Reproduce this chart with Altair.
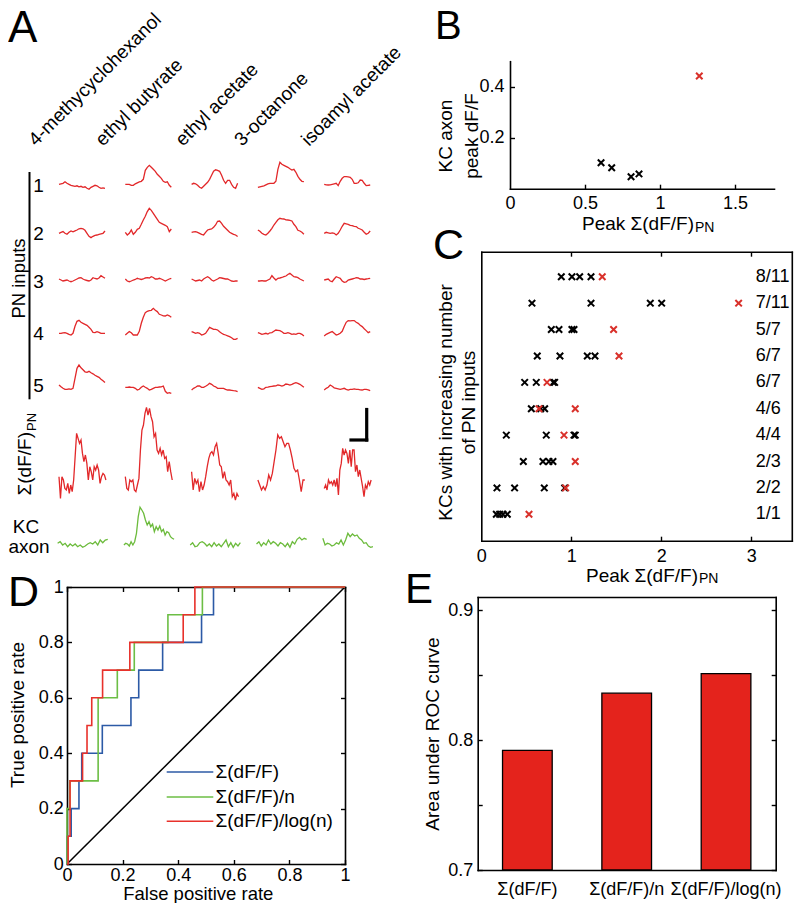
import altair as alt
import pandas as pd

# ====================== DATA ======================
odors = ["4-methycyclohexanol", "ethyl butyrate", "ethyl acetate", "3-octanone", "isoamyl acetate"]
pn_numbers = ["1", "2", "3", "4", "5"]

# Panel A: response traces (deflection above baseline, arbitrary units), one list per odor
pn1 = [
    [0, 0.5, 1, 2.5, 1, 0, -1, -1.5, -2, -1.5, -2.5, -2, -3, -2.5, -4, -5, -3, -2, -1, -1.5, -3, -4, -3.5, -4],
    [0, 0, 0, -1, -1, 0.5, 1.5, 2.5, 3, 5, 14, 17, 19, 17, 15, 13, 10, 8, 6, 3, 2, 2.5, -1, -3],
    [0, 1, 0.5, -1, -3, -4, -2, 0, 2, 5, 9, 13, 14.5, 14, 13, 9, 4, 1, 4, 4, 0, -3, -4, 1],
    [-3, -2.5, -2, -1.5, -0.5, 0.5, 1, 1, 1, 3, 15, 22, 20, 19, 18, 17, 15.5, 14.3, 15, 12, 8, 5, 3, 2.7],
    [0, -0.5, -0.7, -0.5, 0, 0.5, 1, -1.3, 3, 6, 7.7, 7.7, 7.5, 7, 5, 1, 1, 1.5, 4.3, 4, 1, -1.3, -1, -0.7],
]
pn2 = [
    [-1, 0, 0.7, -1, -2, 0, 1.3, 0.5, 1.5, 2.3, 3.5, 4, 3.5, 2, -1, -4, -5.3, -4, -3, -2.7, -2, -1.5, -1, 1.3],
    [0, -2.7, -1, 2.3, -2, 0, 3, 4, 8, 12.3, 16, 20.7, 24, 22, 19, 16, 13, 10, 9, 8, 7, 5.7, 0.7, 3.3],
    [0, 0.5, 0.7, 0, -1, -2, -2.7, 0, 2.3, 3, 3.3, 5, 7.3, 11, 11.3, 9, 6, 4, 2, 0, -1, -2, -2.7, -4.3],
    [2.3, 1, -1, -2, -2.7, -1, 1.3, 4, 7.3, 10, 12.5, 14, 13.5, 13.3, 12.5, 12.3, 12, 11.3, 8, 5.7, 2, 1.3, 0, -2],
    [-1, 0, -0.5, -1, -0.5, -1, -2.7, -1, 2.3, 6, 9, 8.5, 8, 7, 6.7, 6, 5.7, 4, 3.3, 2.3, 0, -2, -1, 1.3],
]
pn3 = [
    [2, 1, 0, 0.5, 1, 0, -0.7, 0, 1, 2, 3, 3.3, 2, 1, 0.5, 0, 1, 3.3, 2.5, 2, 3, 5.3, 4, 2.7],
    [2, 0, -0.7, 0, 1, 1.5, 2.7, 2, 1.5, 2, 3, 3.3, 3, 4.3, 3.5, 2, 2, 2.7, 2, 1, 0, 1, 2, 2.7],
    [2, 1, 0, 0.5, 1, 0, 2, 3.3, 4.3, 3, 1, 0, 1, 2, 3.3, 3, 2.5, 2, 2, 1, 0, -0.3, 0, 0],
    [0, 0, 0.3, 0, 0, 1, 2, 5.3, 3, 1, 2.7, 3, 3.5, 4.3, 5, 6.5, 7.7, 6, 4.3, 4, 3.3, 2, 1, 0],
    [1, 1.5, 2, 0, -0.7, 2, 4.3, 3.5, 2.7, 0, -1.3, -1, 1, 1.5, 2, 2.5, 3.3, 3, 2, 2, 1.5, 2, 2.3, 2.7],
]
pn4 = [
    [0, 0, 0.5, 0.7, 0, -1, -1.7, 0, 7, 12, 13, 11, 10, 9, 8, 6, 4, 1, 0.7, 1.7, 1, 0, 0, 0],
    [-1.7, 0, 1.7, 0.5, -1.7, -1.7, -1.7, 2, 10, 16, 20.7, 22, 22.7, 23, 25, 23, 21.7, 19, 18.3, 17.5, 17.3, 18.3, 17.5, 16],
    [1.7, 1, 0, 0.7, 0, -1.7, -1, 0, 3, 6, 5, 4, 4, 3.3, 1.5, 0, -1, -1.7, -2.5, -3.3, -4.5, -6, -6, -5],
    [0.7, 0, -1, -0.5, 0, -0.7, 0.5, 0.7, 2, 3.3, 3, 2.7, 1.5, 0, 0, 0.7, 0, -1, -0.5, -1, 0, 0, -1, -2.7],
    [-2.7, -1, 0, 1, 1.7, 0, -1.7, -1, 0, 2, 6.7, 11, 12.7, 12.5, 12.7, 12.7, 11, 10, 8, 6.7, 4.5, 2.7, 0.7, 1.7],
]
pn5 = [
    [3.3, 1.5, 0, -1, -1, -0.5, -1, 0, 10, 20, 23.3, 20.5, 18.5, 16.5, 16, 17, 15.5, 14.5, 13, 12, 11, 9, 7.5, 5.7],
    [1, 1, 1.3, 1, 1, 0, -1.7, -1, 1, 2.3, 1, 0, -1.7, -1, 0, 1, 1, 1.3, 1.5, 2.3, -3, -5, -4.3, -5],
    [-1.7, 0, 1, 2.3, 2.3, 1, 1, 2, 3.3, 5, 4, 2.3, 1.5, 0, 0, 0, 0, -1, -1.7, -1.7, -2, -2.3, -2.5, -3.3],
    [1, 0, -1, -0.5, 1, 1.2, 1.7, 2, 2.3, 2.5, 3.3, 3, 2.3, 3, 4.3, 4, 3.3, 4, 5, 5.7, 5, 4, 2.5, 1],
    [-1.7, 0, 1, 3.3, 2, 0.5, 0, -0.5, -1, -0.5, 0, -1, -1.7, -1, -1, -0.5, -1, -1, -1.5, -1.7, -1, -1, -1.5, -2.3],
]
sum_pn = [
    [10, -11.7, 10, 6.7, -1.7, -3.3, 3.3, -6.7, 1.7, -5, 6.7, 30, 53.3, 48.3, 43.3, 46.7, 33.3, 25, 31.7, 23.3,
     6.7, 20, 15, 6.7, 20, 16.7, 21.7, 16.7, 3.3, 10, 13.3, 11.7, 6.7],
    [10, -1.7, -3.3, 6.7, 5, 6.7, -3.3, -5, 1.7, 8.3, 36.7, 56.7, 61.7, 73.3, 79.3, 71.7, 78.3, 70, 65, 50,
     53.3, 36.7, 33.3, 38.3, 31.7, 36.7, 28.3, 30, 15, 25, 15, 6.7],
    [15, -3.3, 8.3, 3.3, 6.7, -5, 5, -3.3, 1.7, 10, 20, 28.3, 33.3, 35, 31.7, 40, 43.3, 33.3, 21.7, 20,
     8.3, 15, 6.7, 5, 1.7, 6.7, -10, -6.7, -13.3, -6.7, -10],
    [6.7, 1.7, -3.3, 0, -3.3, 1.7, 11.7, 6.7, 13.3, 25, 36.7, 51.7, 48.3, 50, 45, 40, 43.3, 43.3, 36.7, 28.3,
     18.3, 15, 16.7, 6.7, -5, 6.7, 6.7],
    [-1.7, 1.7, -3.3, 6.7, 3.3, 5, 1.7, 6.7, 0, 8.3, -8.3, 16.7, 23.3, 38.3, 31.7, 36.7, 33.3, 23.3, 36.7, 20,
     36.7, 36.7, 15, 21.7, 10, 16.7, 8.3, 0, -10, 1.7, -1.7, 5, 1.7, 6.7],
]
kc_axon = [
    [0.7, 2.3, -1, 0.7, -2.7, 0, -2, 0, -2.7, -1, -3.3, -2, 0, 1.3, 0, 2.3, -1, 4, 1.3, 4, 4.7],
    [-1, 0.7, 0, -2, 2.3, -1, 2.3, 10.7, 27.3, 36.7, 34, 30.7, 24, 19, 22.3, 17.3, 20, 12.3, 17.3, 14,
     18, 12.3, 14.7, 9, 12.3, 11.3, 7.3, 5.7, 4.7],
    [-1, 1.3, -2.7, -2, 1.3, 2.3, 0.7, -2, 0, -2.7, 1.3, -2, 0, -2.7, 0.7, 4, -2.7, 1.3, -3.3, 0.7, -2, 1.3],
    [0, 2.3, -2, 1.3, -1, 4, 0, 2.3, 0.7, -2, 1.3, 0, -2.7, 0.7, -3.3, 2.3, 0, 4.7, 6.7, 4, 5.7, 4.7],
    [5.7, -1, 0.7, 0, -2, -1, 1.3, 0, 4, -1, 4, 10.7, 7.3, 10, 8, 9, 5.7, 4, 0.7, 1.3, -2, -3.3, -2.7],
]
trace_rows = [pn1, pn2, pn3, pn4, pn5, sum_pn, kc_axon]

# Panel B
b_peak_sum = [0.607, 0.678, 0.807, 0.860, 1.262]
b_kc_peak = [0.102, 0.082, 0.047, 0.058, 0.442]
b_is_red = [0, 0, 0, 0, 1]

# Panel C (rows listed bottom -> top)
c_row_labels = ["1/1", "2/2", "2/3", "4/4", "4/6", "6/7", "6/7", "5/7", "7/11", "8/11"]
c_black = [
    [0.167, 0.204, 0.241, 0.289],
    [0.174, 0.370, 0.700, 0.926],
    [0.467, 0.685, 0.752, 0.796],
    [0.278, 0.722, 1.030, 1.044],
    [0.556, 0.660, 0.704],
    [0.482, 0.611, 0.800, 0.815],
    [0.622, 0.874, 1.178, 1.263],
    [0.778, 0.863, 1.007, 1.030],
    [0.563, 1.219, 1.878, 2.004],
    [0.889, 1.007, 1.093, 1.219],
]
c_red = [[0.53], [0.937], [1.044], [0.919], [0.641, 1.044], [0.73], [1.53], [1.47], [2.859], [1.344]]

# Panel D (ROC curves)
roc_methods = ["Σ(dF/F)", "Σ(dF/F)/n", "Σ(dF/F)/log(n)"]
roc_fpr_sum = [0, 0, 0.015, 0.015, 0.043, 0.043, 0.053, 0.053, 0.127, 0.127, 0.23, 0.23, 0.258, 0.258,
               0.344, 0.344, 0.484, 0.484, 0.527, 0.527, 1]
roc_tpr_sum = [0, 0.1, 0.1, 0.2, 0.2, 0.3, 0.3, 0.4, 0.4, 0.5, 0.5, 0.6, 0.6, 0.7,
               0.7, 0.8, 0.8, 0.9, 0.9, 1, 1]
roc_fpr_n = [0, 0, 0.01, 0.01, 0.112, 0.112, 0.181, 0.181, 0.242, 0.242, 0.363, 0.363, 0.487, 0.487, 1]
roc_tpr_n = [0, 0.2, 0.2, 0.3, 0.3, 0.6, 0.6, 0.7, 0.7, 0.8, 0.8, 0.9, 0.9, 1, 1]
roc_fpr_log = [0, 0.004, 0.004, 0.011, 0.011, 0.056, 0.056, 0.072, 0.072, 0.089, 0.089, 0.128, 0.128,
               0.226, 0.226, 0.418, 0.418, 0.46, 0.46, 1]
roc_tpr_log = [0, 0, 0.1, 0.1, 0.3, 0.3, 0.4, 0.4, 0.5, 0.5, 0.6, 0.6, 0.7,
               0.7, 0.8, 0.8, 0.9, 0.9, 1, 1]

# Panel E
auc_values = [0.792, 0.836, 0.851]

# ====================== LAYOUT / STYLE ======================
PAGE = 8
W, H = 786, 895
FONT = "Liberation Sans"
TRACE_RED = "#e2282a"
TRACE_GREEN = "#6cbb3c"
ROC_COLORS = ["#2c5aa6", "#6cbe45", "#e8312b"]
BAR_RED = "#e4231c"
MARK_RED = "#d9302a"
XSHAPE = "M-1,-1L1,1M-1,1L1,-1"


def px(v):
    return v - PAGE


def axis(orient, pos, values=None, labels=False, ticks=False, domain=False, pad=4, size=18, tick=4.5,
         fmt="~g", angle=None):
    p = px(pos)
    off = {"bottom": p - H, "top": -p, "left": -p, "right": p - W}[orient]
    kw = dict(orient=orient, offset=off, title=None, grid=False, labels=labels, ticks=ticks, domain=domain,
              domainColor="black", domainWidth=1.6, domainCap="square",
              tickColor="black", tickWidth=1.4, tickSize=tick,
              labelFont=FONT, labelFontSize=size, labelColor="black", labelPadding=pad,
              labelFlush=False, labelOverlap=False, labelBound=False)
    if fmt:
        kw["format"] = fmt
    if values is not None:
        kw["values"] = values
    if angle is not None:
        kw.update(labelAngle=angle, labelAlign="center", labelBaseline="top")
    return alt.Axis(**kw)


# ---------------- Panel A ----------------
A_X0 = 59.0                 # page x of first trace start
A_UNIT = 46.0               # px per trace duration
A_PITCH = 66.3 / A_UNIT     # column pitch in trace durations
A_BASE = {0: 184.3, 1: 232.3, 2: 281.0, 3: 333.3, 4: 388.3, 5: 486.7, 6: 544.0}
A_SHIFT = {0: 0, 1: 0, 2: 0, 3: 0, 4: 0, 5: 0, 6: -0.03}
A_WIDTH = {0: 1.0, 1: 1.0, 2: 1.0, 3: 1.0, 4: 1.0, 5: 1.02, 6: 1.09}

recs = []
for r, row in enumerate(trace_rows):
    for c, vals in enumerate(row):
        for i, v in enumerate(vals):
            recs.append(dict(row=r, col=c, trace=f"{r}-{c}", i=i, n=len(vals), v=v))
a_df = pd.DataFrame(recs)
a_df["t"] = a_df["i"] / (a_df["n"] - 1)
a_df["xa"] = a_df["col"] * A_PITCH + a_df["row"].map(A_SHIFT) + a_df["t"] * a_df["row"].map(A_WIDTH)
a_df["ya"] = a_df["v"] - a_df["row"].map(A_BASE)

A_DMAX = 4 * A_PITCH + 1.1
a_xs = alt.Scale(domain=[0, A_DMAX], range=[px(A_X0), px(A_X0) + A_DMAX * A_UNIT], nice=False, zero=False)
a_ys = alt.Scale(domain=[-560, -130], range=[px(560), px(130)], nice=False, zero=False)


def trace_layer(df, color):
    return alt.Chart(df).mark_line(color=color, strokeWidth=1.3).encode(
        x=alt.X("xa:Q", scale=a_xs, axis=None),
        y=alt.Y("ya:Q", scale=a_ys, axis=None),
        detail="trace:N",
        order="i:Q",
    )


panel_a = alt.layer(trace_layer(a_df[a_df["row"] < 6], TRACE_RED),
                    trace_layer(a_df[a_df["row"] == 6], TRACE_GREEN))

# ---------------- Panel B ----------------
b_df = pd.DataFrame(dict(peak=b_peak_sum, kc=b_kc_peak, red=b_is_red))
b_xs = alt.Scale(domain=[0, 1.76], range=[px(510), px(774)], nice=False, zero=False)
b_ys = alt.Scale(domain=[0, 0.5], range=[px(188.7), px(61.2)], nice=False, zero=False)
b_black = alt.Chart(b_df[b_df["red"] == 0]).mark_point(shape=XSHAPE, size=42, strokeWidth=2, color="black", opacity=1).encode(
    x=alt.X("peak:Q", scale=b_xs, axis=axis("bottom", 188.7, [0, 0.5, 1, 1.5], labels=True, domain=True, pad=5.5)),
    y=alt.Y("kc:Q", scale=b_ys, axis=axis("left", 510, [0.2, 0.4], labels=True, domain=True, pad=6)),
)
b_red = alt.Chart(b_df[b_df["red"] == 1]).mark_point(shape=XSHAPE, size=42, strokeWidth=2, color=MARK_RED, opacity=1).encode(
    x=alt.X("peak:Q", scale=b_xs, axis=axis("top", 188.7, [0.5, 1, 1.5], ticks=True)),
    y=alt.Y("kc:Q", scale=b_ys, axis=axis("right", 510, [0.2, 0.4], ticks=True)),
)
panel_b = alt.layer(b_black, b_red).resolve_axis(x="independent", y="independent")

# ---------------- Panel C ----------------
C_LEFT, C_RIGHT, C_TOP, C_BOTTOM = 481.3, 791.8, 251.7, 540.7
C_LABEL_X = 3.05
cb, cr = [], []
for r, (blk, red) in enumerate(zip(c_black, c_red)):
    cb += [dict(row=r + 1, peak=v) for v in blk]
    cr += [dict(row=r + 1, peak=v) for v in red]
cb_df, cr_df = pd.DataFrame(cb), pd.DataFrame(cr)
cl_df = pd.DataFrame(dict(row=list(range(1, 11)), label=c_row_labels, peak=[C_LABEL_X] * 10))
c_xs = alt.Scale(domain=[0, 3.45], range=[px(C_LEFT), px(C_RIGHT)], nice=False, zero=False)
c_ys = alt.Scale(domain=[0, 10.95], range=[px(C_BOTTOM), px(C_TOP)], nice=False, zero=False)
c_black_l = alt.Chart(cb_df).mark_point(shape=XSHAPE, size=42, strokeWidth=2, color="black", opacity=1).encode(
    x=alt.X("peak:Q", scale=c_xs, axis=axis("bottom", C_BOTTOM, [0, 1, 2, 3], labels=True, domain=True, pad=7)),
    y=alt.Y("row:Q", scale=c_ys, axis=axis("left", C_LEFT, [], domain=True)),
)
c_red_l = alt.Chart(cr_df).mark_point(shape=XSHAPE, size=42, strokeWidth=2, color=MARK_RED, opacity=1).encode(
    x=alt.X("peak:Q", scale=c_xs, axis=axis("top", C_BOTTOM, [1, 2, 3], ticks=True)),
    y=alt.Y("row:Q", scale=c_ys, axis=axis("left", C_RIGHT, [], domain=True)),
)
c_lab = alt.Chart(cl_df).mark_text(align="left", baseline="middle", font=FONT, fontSize=18, color="black").encode(
    x=alt.X("peak:Q", scale=c_xs, axis=axis("bottom", C_TOP, [1, 2, 3], ticks=True, domain=True)),
    y=alt.Y("row:Q", scale=c_ys, axis=None),
    text="label:N",
)
panel_c = alt.layer(c_black_l, c_red_l, c_lab).resolve_axis(x="independent", y="independent")

# ---------------- Panel D ----------------
D_LEFT, D_RIGHT, D_TOP, D_BOTTOM = 67, 345, 587, 864
rr = []
for m, col, fs, ts in zip(roc_methods, ROC_COLORS, [roc_fpr_sum, roc_fpr_n, roc_fpr_log],
                          [roc_tpr_sum, roc_tpr_n, roc_tpr_log]):
    rr += [dict(method=m, color=col, fpr=f, tpr=t, idx=i) for i, (f, t) in enumerate(zip(fs, ts))]
roc_df = pd.DataFrame(rr)
diag_df = pd.DataFrame(dict(fpr=[0, 1], tpr=[0, 1]))
d_xs = alt.Scale(domain=[0, 1], range=[px(D_LEFT), px(D_RIGHT)], nice=False, zero=False)
d_ys = alt.Scale(domain=[0, 1], range=[px(D_BOTTOM), px(D_TOP)], nice=False, zero=False)
ticks01 = [0, 0.2, 0.4, 0.6, 0.8, 1]
d_diag = alt.Chart(diag_df).mark_line(color="black", strokeWidth=1.5).encode(
    x=alt.X("fpr:Q", scale=d_xs, axis=axis("top", D_BOTTOM, ticks01, ticks=True)),
    y=alt.Y("tpr:Q", scale=d_ys, axis=axis("right", D_LEFT, ticks01, ticks=True)),
)
d_frame = alt.Chart(diag_df).mark_point(opacity=0).encode(
    x=alt.X("fpr:Q", scale=d_xs, axis=axis("bottom", D_TOP, ticks01, ticks=True, domain=True)),
    y=alt.Y("tpr:Q", scale=d_ys, axis=axis("left", D_RIGHT, ticks01, ticks=True, domain=True)),
)
d_roc = alt.Chart(roc_df).mark_line(strokeWidth=1.6).encode(
    x=alt.X("fpr:Q", scale=d_xs, axis=axis("bottom", D_BOTTOM, ticks01, labels=True, domain=True, pad=2)),
    y=alt.Y("tpr:Q", scale=d_ys, axis=axis("left", D_LEFT, ticks01, labels=True, domain=True, pad=3.7)),
    color=alt.Color("color:N", scale=None),
    detail="method:N",
    order="idx:Q",
)
panel_d = alt.layer(d_diag, d_frame, d_roc).resolve_axis(x="independent", y="independent")

# Legend of panel D (drawn inside the plot box)
LEG_X0, LEG_X1, LEG_TX = 166.7, 213.3, 215.5
LEG_Y = [772, 797, 821.3]
leg_df = pd.DataFrame(dict(label=roc_methods, color=ROC_COLORS, ly=[px(v) for v in LEG_Y]))
leg_lines = alt.Chart(leg_df).mark_rule(strokeWidth=1.6).encode(
    x=alt.value(px(LEG_X0)), x2=alt.value(px(LEG_X1)),
    y=alt.Y("ly:Q", scale=None), color=alt.Color("color:N", scale=None),
)
leg_text = alt.Chart(leg_df).mark_text(align="left", baseline="middle", font=FONT, fontSize=19, color="black").encode(
    x=alt.value(px(LEG_TX)), y=alt.Y("ly:Q", scale=None), text="label:N",
)

# ---------------- Panel E ----------------
E_LEFT, E_RIGHT, E_TOP, E_BOTTOM = 477.7, 775.7, 597, 870
e_df = pd.DataFrame(dict(method=roc_methods, auc=auc_values))
e_xs = alt.Scale(domain=roc_methods, range=[px(E_LEFT), px(E_RIGHT)], paddingInner=0.5, paddingOuter=0.25)
e_ys = alt.Scale(domain=[0.7, 0.91], range=[px(E_BOTTOM), px(E_TOP)], nice=False, zero=False)
eticks = [0.7, 0.75, 0.8, 0.85, 0.9]
e_bars = alt.Chart(e_df).mark_bar(color=BAR_RED, stroke="black", strokeWidth=1.3).encode(
    x=alt.X("method:N", scale=e_xs, sort=roc_methods,
            axis=axis("bottom", E_BOTTOM, labels=True, domain=True, pad=10.5, size=18, fmt=None, angle=0)),
    y=alt.Y("auc:Q", scale=e_ys, axis=axis("left", E_LEFT, [0.7, 0.8, 0.9], labels=True, domain=True, pad=5)),
    y2=alt.Y2(datum=0.7),
)
e_g1 = alt.Chart(e_df).mark_point(opacity=0).encode(
    x=alt.X("method:N", scale=e_xs, sort=roc_methods, axis=axis("bottom", E_TOP, domain=True, fmt=None)),
    y=alt.Y("auc:Q", scale=e_ys, axis=axis("right", E_LEFT, eticks, ticks=True)),
)
e_g2 = alt.Chart(e_df).mark_point(opacity=0).encode(
    x=alt.X("method:N", scale=e_xs, sort=roc_methods, axis=None),
    y=alt.Y("auc:Q", scale=e_ys, axis=axis("left", E_RIGHT, eticks, ticks=True, domain=True)),
)
panel_e = alt.layer(e_bars, e_g1, e_g2).resolve_axis(x="independent", y="independent")

# ---------------- Annotations (text + decorations, page coordinates) ----------------
texts = [
    ("A", 8, 42, 44, 0, "left"), ("B", 435, 38.5, 40, 0, "left"), ("C", 433, 259, 43, 0, "left"),
    ("D", 8, 606, 43, 0, "left"), ("E", 405, 603.3, 42, 0, "left"),
    ("PN inputs", 24.5, 278.5, 18.5, 270, "center"),
    ("Σ(dF/F)", 30.7, 432, 19, 270, "right"), ("PN", 36, 431, 13, 270, "left"),
    ("KC", 26, 533, 19, 0, "center"), ("axon", 29, 553, 19, 0, "center"),
    ("KC axon", 451.6, 136, 19, 270, "center"), ("peak dF/F", 478, 136, 19, 270, "center"),
    ("Peak Σ(dF/F)", 694, 230, 19, 0, "right"), ("PN", 695, 231.5, 14, 0, "left"),
    ("KCs with increasing number", 452, 402.5, 19, 270, "center"), ("of PN inputs", 475, 402.5, 19, 270, "center"),
    ("Peak Σ(dF/F)", 698, 581.5, 19, 0, "right"), ("PN", 699, 582.5, 14, 0, "left"),
    ("True positive rate", 23.6, 715, 19, 270, "center"), ("False positive rate", 198.3, 899.5, 18.5, 0, "center"),
    ("Area under ROC curve", 438.6, 734, 19, 270, "center"),
]
HEADER_X = [36, 103, 183, 242, 309]
texts += [(o, hx, 147, 19, 315, "left") for o, hx in zip(odors, HEADER_X)]
ROWNUM_Y = [191.7, 240, 288.3, 340, 391.7]
texts += [(n, 38.5, ry, 19, 0, "center") for n, ry in zip(pn_numbers, ROWNUM_Y)]
ann = pd.DataFrame(texts, columns=["text", "px", "py", "fs", "ang", "anchor"])
ann["px"] = ann["px"] - PAGE
ann["py"] = ann["py"] - PAGE


def text_layer(anchor):
    sub = ann[ann["anchor"] == anchor]
    return alt.Chart(sub).mark_text(align=anchor, baseline="alphabetic", font=FONT, color="black").encode(
        x=alt.X("px:Q", scale=None), y=alt.Y("py:Q", scale=None), text="text:N",
        size=alt.Size("fs:Q", scale=None), angle=alt.Angle("ang:Q", scale=None),
    )


rules = pd.DataFrame(
    [(29.5, 29.5, 173, 398.3, 2.0),        # PN inputs bracket
     (366.7, 366.7, 409.5, 440, 3.2),      # scale bar vertical
     (351, 366.7, 440, 440, 3.2)],         # scale bar horizontal
    columns=["rx", "rx2", "ry", "ry2", "w"])
for c in ["rx", "rx2", "ry", "ry2"]:
    rules[c] = rules[c] - PAGE
rule_layer = alt.Chart(rules).mark_rule(color="black", strokeCap="square").encode(
    x=alt.X("rx:Q", scale=None), x2="rx2:Q", y=alt.Y("ry:Q", scale=None), y2="ry2:Q",
    strokeWidth=alt.StrokeWidth("w:Q", scale=None),
)

chart = alt.layer(
    panel_a, panel_b, panel_c, panel_d, panel_e, leg_lines, leg_text,
    text_layer("left"), text_layer("center"), text_layer("right"), rule_layer,
).resolve_scale(x="independent", y="independent").properties(
    width=W, height=H, padding=0, autosize=alt.AutoSizeParams(type="none"),
).configure(font=FONT).configure_view(stroke=None)

chart.save("out.html", embed_options={"renderer": "svg", "actions": False})
